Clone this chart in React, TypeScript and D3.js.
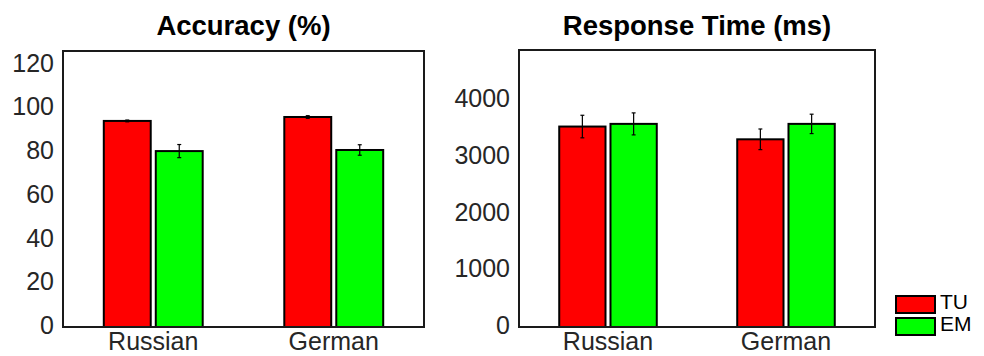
import React, { useEffect } from "react";
import * as d3 from "d3";

const categories = ["Russian", "German"];
const seriesNames = ["TU", "EM"];
const seriesColors = ["#ff0000", "#00ff00"];

const accuracyTU = [94.3, 96.1];
const accuracyEM = [80.5, 81.0];
const accuracyErrTU = [0.4, 0.6];
const accuracyErrEM = [3.0, 2.4];
const accuracyTicks = [0, 20, 40, 60, 80, 100, 120];

const rtTU = [3535, 3310];
const rtEM = [3582, 3582];
const rtErrTU = [199, 182];
const rtErrEM = [194, 171];
const rtTicks = [0, 1000, 2000, 3000, 4000];

type PanelProps = {
  title: string;
  left: number;
  right: number;
  top: number;
  bottom: number;
  yMax: number;
  ticks: number[];
  values: number[][];
  errors: number[][];
};

const FONT = "'Liberation Sans', Arial, Helvetica, sans-serif";

function Panel({ title, left, right, top, bottom, yMax, ticks, values, errors }: PanelProps) {
  const x = d3.scaleLinear().domain([0.5, categories.length + 0.5]).range([left, right]);
  const y = d3.scaleLinear().domain([0, yMax]).range([bottom, top]);
  const offset = 0.144;
  const bw = 0.26;
  const capW = 0.011;
  return (
    <g>
      <text
        x={(left + right) / 2}
        y={35}
        textAnchor="middle"
        fontFamily={FONT}
        fontWeight="bold"
        fontSize={27.5}
        fill="#000"
      >
        {title}
      </text>
      {ticks.map((t) => (
        <text
          key={t}
          x={left - 9}
          y={y(t) - 2}
          textAnchor="end"
          dominantBaseline="central"
          fontFamily={FONT}
          fontSize={25}
          fill="#262626"
        >
          {t}
        </text>
      ))}
      {categories.map((c, i) => (
        <text
          key={c}
          x={x(i + 1)}
          y={350}
          textAnchor="middle"
          fontFamily={FONT}
          fontSize={25}
          fill="#262626"
        >
          {c}
        </text>
      ))}
      {categories.map((c, i) =>
        seriesNames.map((s, j) => {
          const cx = i + 1 + (j === 0 ? -offset : offset);
          const v = values[j][i];
          const e = errors[j][i];
          return (
            <g key={c + s}>
              <rect
                x={x(cx - bw / 2)}
                y={y(v)}
                width={x(cx + bw / 2) - x(cx - bw / 2)}
                height={y(0) - y(v)}
                fill={seriesColors[j]}
                stroke="#000"
                strokeWidth={2}
              />
              <line x1={x(cx)} x2={x(cx)} y1={y(v - e)} y2={y(v + e)} stroke="#000" strokeWidth={1.2} />
              <line x1={x(cx - capW)} x2={x(cx + capW)} y1={y(v - e)} y2={y(v - e)} stroke="#000" strokeWidth={1.2} />
              <line x1={x(cx - capW)} x2={x(cx + capW)} y1={y(v + e)} y2={y(v + e)} stroke="#000" strokeWidth={1.2} />
            </g>
          );
        })
      )}
      <rect
        x={left}
        y={top}
        width={right - left}
        height={bottom - top}
        fill="none"
        stroke="#1a1a1a"
        strokeWidth={2}
      />
    </g>
  );
}

export default function App() {
  useEffect(() => {
    document.body.style.margin = "0";
  }, []);
  const legendX = 896;
  const legendY = [296, 318];
  return (
    <svg
      width={984}
      height={356}
      style={{ position: "absolute", left: 0, top: 0, background: "#fff" }}
    >
      <rect x={0} y={0} width={984} height={356} fill="#fff" />
      <Panel
        title="Accuracy (%)"
        left={63}
        right={424}
        top={51}
        bottom={327}
        yMax={126.3}
        ticks={accuracyTicks}
        values={[accuracyTU, accuracyEM]}
        errors={[accuracyErrTU, accuracyErrEM]}
      />
      <Panel
        title="Response Time (ms)"
        left={519}
        right={875}
        top={50}
        bottom={327}
        yMax={4885}
        ticks={rtTicks}
        values={[rtTU, rtEM]}
        errors={[rtErrTU, rtErrEM]}
      />
      {seriesNames.map((s, j) => (
        <g key={s}>
          <rect
            x={legendX}
            y={legendY[j]}
            width={39}
            height={17}
            fill={seriesColors[j]}
            stroke="#000"
            strokeWidth={2}
          />
          <text x={legendX + 44} y={legendY[j] + 13} fontFamily={FONT} fontSize={21} fill="#000">
            {s}
          </text>
        </g>
      ))}
    </svg>
  );
}
